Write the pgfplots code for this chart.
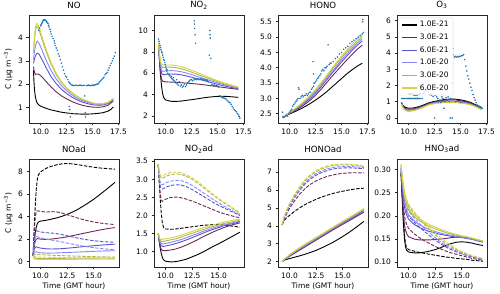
\documentclass[border=0pt]{standalone}
\usepackage{fontspec}
\setmainfont{DejaVu Sans}
\usepackage{pgfplots}
\pgfplotsset{compat=1.18}
\definecolor{c1}{RGB}{0,0,0}
\definecolor{c2}{RGB}{110,40,85}
\definecolor{c3}{RGB}{85,85,205}
\definecolor{c4}{RGB}{135,135,255}
\definecolor{c5}{RGB}{180,180,75}
\definecolor{c6}{RGB}{212,212,70}
\definecolor{obs}{RGB}{31,119,180}
\pgfplotsset{
  myax/.style={scale only axis, width=90bp, height=108bp, anchor=south west,
    axis line style={black!85, line width=0.6bp}, tick align=outside, tick pos=left,
    major tick length=2.5bp, tick style={black!85, line width=0.6bp},
    ticklabel style={font=\fontsize{7.5}{8.5}\selectfont},
    label style={font=\fontsize{7.5}{8.5}\selectfont},
    title style={font=\fontsize{8.6}{9.6}\selectfont, yshift=-3.5bp},
    /pgf/number format/assume math mode=true, clip=true},
  toprow/.style={myax, xmin=8.87, xmax=17.55, xtick={10,12.5,15,17.5}, xticklabels={10.0,12.5,15.0,17.5}},
  botrow/.style={myax, xmin=8.915, xmax=17.385, xtick={10,12.5,15}, xticklabels={10.0,12.5,15.0}, xlabel={Time (GMT hour)}, xlabel style={yshift=2.5bp}},
  ln/.style={line width=0.9bp},
  dsh/.style={line width=0.9bp, dash pattern=on 3.5bp off 1.5bp},
  ob/.style={only marks, mark=*, mark size=0.55bp, obs, forget plot},
}
\begin{document}
\begin{tikzpicture}
\useasboundingbox (0,0) rectangle (500bp,294bp);
% ---------------- NO ----------------
\begin{axis}[toprow, at={(29bp,171bp)}, title={NO}, ymin=0.34, ymax=4.96, ytick={1,2,3,4},
  ylabel={C (μg m\textsuperscript{−3})}, ylabel style={yshift=-1bp}]
\addplot[ob] coordinates {(9.8,4.3)(9.9,4.4)(10.0,4.5)(10.05,4.55)(10.1,4.6)(10.15,4.65)(10.2,4.7)(10.25,4.72)(10.3,4.75)(10.35,4.75)(10.4,4.75)(10.5,4.72)(10.55,4.68)(10.6,4.65)(10.7,4.6)(10.75,4.52)(10.8,4.45)(10.9,4.35)(10.95,4.25)(11.0,4.15)(11.1,4.05)(11.2,3.95)(11.3,3.85)(11.35,3.75)(11.4,3.65)(11.5,3.55)(11.6,3.45)(11.7,3.3)(11.8,3.2)(11.9,3.05)(12.0,2.9)(12.1,2.75)(12.2,2.6)(12.3,2.45)(12.4,2.35)(12.5,2.3)(12.6,2.2)(12.7,2.1)(12.8,2.05)(12.9,2.0)(13.0,1.97)(13.1,1.95)(13.2,1.94)(13.3,1.95)(13.4,1.96)(13.5,1.95)(13.6,1.94)(13.7,1.95)(13.8,1.96)(13.9,1.95)(14.0,1.94)(14.1,1.95)(14.2,1.95)(14.4,1.94)(14.5,1.95)(14.6,1.96)(14.7,1.95)(14.8,1.94)(14.9,1.95)(15.0,1.96)(15.1,1.95)(15.2,1.96)(15.3,1.98)(15.4,2.0)(15.5,2.0)(15.6,2.05)(15.7,2.1)(15.8,2.15)(15.9,2.2)(16.0,2.25)(16.1,2.3)(16.2,2.4)(16.3,2.45)(16.4,2.5)(16.5,2.6)(16.6,2.7)(16.7,2.8)(16.8,2.9)(16.9,3.0)(17.0,3.1)(17.1,3.2)(17.2,3.35)(12.75,1.05)(12.8,0.92)(12.82,0.75)(12.85,0.6)(14.25,1.5)(14.3,0.78)(14.32,0.6)};
\addplot[ln,c1] coordinates {(9.3,2.6)(9.35,2.1)(9.4,1.75)(9.5,1.42)(9.6,1.25)(9.7,1.17)(9.85,1.1)(10,1.06)(10.5,0.97)(11,0.9)(11.5,0.85)(12,0.8)(12.5,0.77)(13,0.74)(13.5,0.73)(14,0.72)(14.5,0.72)(15,0.73)(15.5,0.75)(16,0.78)(16.5,0.85)(16.8,0.93)(17,1.03)};
\addplot[ln,c2] coordinates {(9.3,2.75)(9.4,2.5)(9.5,2.42)(9.6,2.43)(9.75,2.44)(9.9,2.4)(10,2.36)(10.25,2.25)(10.5,2.12)(11,1.88)(11.5,1.67)(12,1.5)(12.5,1.37)(13,1.26)(13.5,1.17)(14,1.1)(14.5,1.05)(15,1.02)(15.5,1.01)(16,1.03)(16.5,1.1)(17,1.28)};
\addplot[ln,c3] coordinates {(9.3,2.9)(9.4,3.08)(9.5,3.22)(9.6,3.3)(9.7,3.33)(9.85,3.28)(10,3.15)(10.25,2.95)(10.5,2.72)(11,2.32)(11.5,2.02)(12,1.78)(12.5,1.6)(13,1.45)(13.5,1.33)(14,1.24)(14.5,1.17)(15,1.12)(15.5,1.1)(16,1.11)(16.5,1.17)(17,1.32)};
\addplot[ln,c4] coordinates {(9.3,3.05)(9.4,3.4)(9.5,3.65)(9.6,3.8)(9.67,3.84)(9.8,3.78)(10,3.6)(10.25,3.32)(10.5,3.05)(11,2.58)(11.5,2.22)(12,1.93)(12.5,1.72)(13,1.54)(13.5,1.4)(14,1.3)(14.5,1.22)(15,1.16)(15.5,1.13)(16,1.14)(16.5,1.2)(17,1.35)};
\addplot[ln,c5] coordinates {(9.3,3.35)(9.4,3.9)(9.5,4.3)(9.6,4.48)(9.7,4.45)(9.85,4.3)(10,4.1)(10.25,3.75)(10.5,3.42)(11,2.85)(11.5,2.4)(12,2.06)(12.5,1.81)(13,1.62)(13.5,1.47)(14,1.35)(14.5,1.26)(15,1.19)(15.5,1.15)(16,1.16)(16.5,1.22)(17,1.37)};
\addplot[ln,c6] coordinates {(9.3,3.45)(9.4,4.05)(9.5,4.45)(9.6,4.6)(9.7,4.56)(9.85,4.42)(10,4.22)(10.25,3.86)(10.5,3.52)(11,2.93)(11.5,2.46)(12,2.1)(12.5,1.85)(13,1.65)(13.5,1.49)(14,1.37)(14.5,1.28)(15,1.2)(15.5,1.16)(16,1.17)(16.5,1.23)(17,1.39)};
\end{axis}
% ---------------- NO2 ----------------
\begin{axis}[toprow, at={(154bp,171bp)}, title={NO\textsubscript{2}}, ymin=1.35, ymax=11.45, ytick={2,4,6,8,10}]
\addplot[ob] coordinates {(9.3,9.2)(9.35,9.0)(9.4,8.8)(9.45,8.6)(9.5,8.4)(9.55,8.2)(9.6,8.0)(9.65,7.9)(9.7,7.7)(9.75,7.5)(9.8,7.3)(9.85,7.2)(9.9,7.0)(9.95,6.8)(10.0,6.6)(10.05,6.4)(10.1,6.2)(10.15,6.3)(10.2,6.0)(10.3,5.9)(10.35,5.8)(10.4,5.75)(10.5,5.6)(10.55,5.7)(10.6,5.5)(10.7,5.4)(10.75,5.6)(10.8,5.3)(10.9,5.2)(11.0,5.1)(11.05,5.4)(11.1,5.0)(11.2,4.9)(11.3,5.2)(11.4,4.8)(11.5,4.9)(11.6,4.7)(11.7,4.8)(11.8,5.0)(11.9,4.75)(12.0,4.9)(12.1,5.1)(12.2,5.2)(12.3,5.3)(12.4,5.4)(12.5,5.4)(12.6,5.3)(12.7,5.5)(12.8,5.4)(12.9,5.45)(13.0,5.4)(13.1,5.5)(13.2,5.4)(13.3,5.45)(13.4,5.5)(13.5,5.4)(13.6,5.45)(13.7,5.35)(13.8,5.4)(13.9,5.3)(14.0,5.35)(14.1,5.2)(14.4,4.9)(14.5,4.95)(14.6,4.85)(14.7,4.9)(14.8,4.8)(14.9,4.85)(15.0,4.8)(15.1,4.7)(15.2,3.9)(15.3,3.85)(15.4,3.75)(15.5,3.7)(15.6,3.7)(15.7,3.65)(15.8,3.6)(15.9,3.5)(16.0,3.4)(16.1,3.3)(16.2,3.25)(16.3,3.1)(16.4,2.9)(16.5,2.75)(16.6,2.6)(16.7,2.5)(16.8,2.4)(16.9,2.25)(17.0,2.15)(17.05,2.0)(17.1,1.95)(17.15,1.8)(12.75,10.9)(12.77,10.6)(12.8,10.2)(12.83,9.6)(12.88,8.8)(14.25,10.0)(14.27,9.6)(14.3,9.3)(14.2,7.7)(14.35,7.4)};
\addplot[ln,c1] coordinates {(9.3,8.6)(9.4,7.2)(9.5,5.8)(9.6,4.8)(9.7,4.1)(9.8,3.75)(9.9,3.6)(10,3.5)(10.5,3.38)(11,3.37)(11.5,3.4)(12,3.47)(12.5,3.53)(13,3.6)(13.5,3.68)(14,3.75)(14.5,3.8)(15,3.84)(15.5,3.85)(16,3.83)(16.5,3.79)(17,3.75)};
\addplot[ln,c2] coordinates {(9.3,8.6)(9.4,7.2)(9.5,6.0)(9.6,5.45)(9.7,5.27)(9.85,5.22)(10,5.2)(11,5.15)(12,5.08)(12.5,5.04)(13,5.0)(14,4.88)(15,4.75)(16,4.62)(17,4.5)};
\addplot[ln,c3] coordinates {(9.3,8.65)(9.4,7.4)(9.5,6.5)(9.6,6.0)(9.7,5.88)(9.85,5.87)(10,5.9)(10.5,5.93)(11,5.92)(11.5,5.85)(12,5.75)(12.5,5.63)(13,5.5)(13.5,5.37)(14,5.23)(14.5,5.1)(15,4.97)(15.5,4.85)(16,4.74)(16.5,4.64)(17,4.55)};
\addplot[ln,c4] coordinates {(9.3,8.7)(9.4,7.55)(9.5,6.75)(9.6,6.3)(9.7,6.18)(9.85,6.2)(10,6.22)(10.5,6.25)(11,6.22)(11.5,6.14)(12,6.02)(12.5,5.88)(13,5.72)(13.5,5.56)(14,5.4)(14.5,5.25)(15,5.1)(15.5,4.96)(16,4.84)(16.5,4.72)(17,4.6)};
\addplot[ln,c5] coordinates {(9.3,8.75)(9.4,7.7)(9.5,7.0)(9.6,6.65)(9.7,6.55)(9.85,6.55)(10,6.57)(10.5,6.58)(11,6.52)(11.5,6.42)(12,6.28)(12.5,6.1)(13,5.92)(13.5,5.74)(14,5.56)(14.5,5.38)(15,5.21)(15.5,5.05)(16,4.91)(16.5,4.78)(17,4.66)};
\addplot[ln,c6] coordinates {(9.3,8.8)(9.4,7.8)(9.5,7.15)(9.6,6.85)(9.7,6.78)(9.85,6.78)(10,6.78)(10.5,6.77)(11,6.72)(11.5,6.62)(12,6.46)(12.5,6.28)(13,6.08)(13.5,5.88)(14,5.68)(14.5,5.49)(15,5.31)(15.5,5.14)(16,4.99)(16.5,4.85)(17,4.72)};
\end{axis}
% ---------------- HONO ----------------
\begin{axis}[toprow, at={(278bp,171bp)}, title={HONO}, ymin=2.2, ymax=5.72, ytick={2.5,3,3.5,4,4.5,5,5.5}, yticklabels={2.5,3.0,3.5,4.0,4.5,5.0,5.5}]
\addplot[ob] coordinates {(9.3,2.55)(9.35,2.4)(9.4,2.38)(9.5,2.4)(9.6,2.42)(9.7,2.45)(9.8,2.42)(9.9,2.5)(10.0,2.55)(10.1,2.6)(10.2,2.65)(10.3,2.75)(10.4,2.8)(10.5,2.85)(10.6,2.9)(10.7,2.95)(10.8,3.0)(10.85,3.35)(10.9,3.3)(11.0,3.0)(11.1,3.05)(11.2,3.1)(11.3,3.05)(11.4,3.1)(11.5,3.1)(11.6,3.15)(11.7,3.1)(11.8,3.15)(11.9,3.2)(12.0,3.2)(12.1,3.3)(12.2,3.35)(12.3,3.4)(12.25,4.2)(12.3,3.8)(12.35,3.5)(12.4,3.5)(12.5,3.55)(12.6,3.6)(12.7,3.65)(12.8,3.7)(12.9,3.75)(13.0,3.8)(13.1,3.9)(13.2,3.95)(13.3,3.9)(13.4,4.0)(13.5,4.0)(13.6,4.05)(13.7,4.75)(13.8,4.1)(13.9,4.15)(14.0,4.15)(14.2,4.2)(14.4,4.3)(14.6,4.35)(14.8,4.45)(15.0,4.5)(15.2,4.6)(15.4,4.65)(15.6,4.7)(15.8,4.8)(16.0,4.85)(16.2,4.9)(16.4,4.95)(16.6,5.0)(16.8,5.05)(17.0,5.1)(17.05,5.5)(17.05,5.58)(17.1,5.15)};
\addplot[ln,c1] coordinates {(9.3,2.38)(9.5,2.42)(10,2.5)(10.5,2.57)(11,2.65)(11.5,2.74)(12,2.84)(12.5,2.95)(13,3.07)(13.5,3.2)(14,3.35)(14.5,3.5)(15,3.65)(15.5,3.8)(16,3.93)(16.5,4.05)(17,4.15)};
\addplot[ln,c2] coordinates {(9.3,2.38)(9.5,2.42)(10,2.5)(10.5,2.6)(11,2.7)(11.5,2.82)(12,2.95)(12.5,3.11)(13,3.29)(13.5,3.49)(14,3.69)(14.5,3.88)(15,4.07)(15.5,4.25)(16,4.43)(16.5,4.6)(17,4.74)};
\addplot[ln,c3] coordinates {(9.3,2.38)(9.5,2.43)(10,2.52)(10.5,2.62)(11,2.74)(11.5,2.87)(12,3.01)(12.5,3.18)(13,3.37)(13.5,3.58)(14,3.79)(14.5,3.99)(15,4.19)(15.5,4.38)(16,4.56)(16.5,4.73)(17,4.88)};
\addplot[ln,c4] coordinates {(9.3,2.38)(9.5,2.43)(10,2.53)(10.5,2.64)(11,2.76)(11.5,2.9)(12,3.05)(12.5,3.22)(13,3.42)(13.5,3.63)(14,3.85)(14.5,4.05)(15,4.26)(15.5,4.45)(16,4.63)(16.5,4.8)(17,4.95)};
\addplot[ln,c5] coordinates {(9.3,2.38)(9.5,2.44)(10,2.54)(10.5,2.66)(11,2.79)(11.5,2.93)(12,3.09)(12.5,3.27)(13,3.47)(13.5,3.69)(14,3.91)(14.5,4.12)(15,4.33)(15.5,4.52)(16,4.7)(16.5,4.87)(17,5.02)};
\addplot[ln,c6] coordinates {(9.3,2.38)(9.5,2.44)(10,2.55)(10.5,2.67)(11,2.8)(11.5,2.95)(12,3.11)(12.5,3.3)(13,3.5)(13.5,3.72)(14,3.95)(14.5,4.17)(15,4.38)(15.5,4.58)(16,4.77)(16.5,4.94)(17,5.08)};
\end{axis}
% ---------------- O3 ----------------
\begin{axis}[toprow, at={(397bp,171bp)}, title={O\textsubscript{3}}, ymin=-0.31, ymax=6.35, ytick={0,1,2,3,4,5,6},
  legend style={at={(0.02,0.975)}, anchor=north west, font=\fontsize{7.5}{8.5}\selectfont, draw=black!15, rounded corners=1.5bp, fill=white, fill opacity=0.8, text opacity=1, inner xsep=2.5bp, inner ysep=1.5bp, row sep=1.6bp},
  legend cell align=left,
  legend image code/.code={\draw[#1, line width=1.3bp] (0bp,0bp) -- (15bp,0bp);}]
\addplot[ob] coordinates {(9.3,0.9)(9.35,1.2)(9.45,1.2)(9.55,1.2)(9.65,1.2)(9.75,1.2)(9.85,1.2)(9.95,1.2)(10.05,1.2)(10.15,1.2)(10.25,1.2)(10.35,1.2)(10.45,1.2)(10.55,1.2)(10.65,1.2)(10.75,1.2)(10.85,1.2)(10.95,1.2)(11.05,1.2)(11.15,1.2)(11.3,1.2)(10.0,1.48)(10.1,1.48)(10.2,1.48)(10.3,1.48)(10.4,1.48)(10.5,1.4)(10.6,1.4)(10.7,1.4)(10.8,1.4)(10.9,1.45)(11.0,1.45)(11.1,1.5)(11.4,1.5)(11.5,1.6)(11.6,1.7)(11.7,1.85)(11.8,1.75)(11.9,1.6)(12.0,1.45)(12.1,1.5)(12.2,1.4)(12.35,1.33)(12.5,0.0)(12.55,1.4)(12.7,1.3)(12.8,1.2)(12.9,1.0)(13.0,1.1)(13.1,0.95)(13.2,1.3)(13.3,1.2)(13.4,0.6)(13.5,1.0)(13.6,1.25)(13.7,1.1)(13.8,1.3)(13.9,1.0)(14.0,0.0)(14.05,1.2)(14.15,2.15)(14.2,0.0)(14.25,4.3)(14.3,3.9)(14.4,3.75)(14.5,3.8)(14.6,3.75)(14.7,3.8)(14.8,3.75)(14.9,3.8)(15.0,3.8)(15.1,3.85)(15.2,3.85)(15.3,3.9)(15.4,3.6)(15.5,3.2)(15.6,2.9)(15.7,2.6)(15.8,2.4)(15.9,2.15)(16.0,1.9)(16.1,1.7)(16.2,1.45)(16.3,1.25)(16.4,1.1)(16.5,0.95)(16.6,0.8)(16.7,0.75)(16.8,0.72)(16.9,0.7)(17.0,0.65)(17.1,0.6)(14.5,1.0)(14.7,1.05)(15.0,0.95)(15.2,1.0)};
\addplot[ln,c1] coordinates {(9.3,0.95)(9.4,0.82)(9.5,0.74)(9.7,0.65)(10,0.6)(10.5,0.62)(11,0.7)(11.5,0.82)(12,0.95)(12.5,1.02)(13,1.09)(13.5,1.14)(14,1.17)(14.5,1.16)(15,1.12)(15.5,1.05)(16,0.95)(16.5,0.8)(17,0.6)};
\addlegendentry{1.0E-21}
\addplot[ln,c2] coordinates {(9.3,0.94)(9.4,0.78)(9.5,0.68)(9.7,0.58)(10,0.54)(10.5,0.57)(11,0.66)(11.5,0.78)(12,0.91)(12.5,0.99)(13,1.06)(13.5,1.1)(14,1.12)(14.5,1.11)(15,1.07)(15.5,1.0)(16,0.91)(16.5,0.76)(17,0.57)};
\addlegendentry{3.0E-21}
\addplot[ln,c3] coordinates {(9.3,0.93)(9.4,0.74)(9.5,0.63)(9.7,0.52)(10,0.48)(10.5,0.52)(11,0.61)(11.5,0.74)(12,0.87)(12.5,0.94)(13,1.0)(13.5,1.03)(14,1.04)(14.5,1.03)(15,1.0)(15.5,0.94)(16,0.86)(16.5,0.72)(17,0.55)};
\addlegendentry{6.0E-21}
\addplot[ln,c4] coordinates {(9.3,0.92)(9.4,0.72)(9.5,0.61)(9.7,0.5)(10,0.45)(10.5,0.49)(11,0.59)(11.5,0.72)(12,0.85)(12.5,0.92)(13,0.97)(13.5,1.0)(14,1.01)(14.5,1.0)(15,0.97)(15.5,0.91)(16,0.84)(16.5,0.7)(17,0.54)};
\addlegendentry{1.0E-20}
\addplot[ln,c5] coordinates {(9.3,0.91)(9.4,0.7)(9.5,0.58)(9.7,0.47)(10,0.42)(10.5,0.47)(11,0.57)(11.5,0.7)(12,0.83)(12.5,0.9)(13,0.95)(13.5,0.97)(14,0.98)(14.5,0.97)(15,0.94)(15.5,0.89)(16,0.82)(16.5,0.69)(17,0.53)};
\addlegendentry{3.0E-20}
\addplot[ln,c6] coordinates {(9.3,0.9)(9.4,0.68)(9.5,0.56)(9.7,0.45)(10,0.4)(10.5,0.45)(11,0.55)(11.5,0.68)(12,0.82)(12.5,0.88)(13,0.93)(13.5,0.95)(14,0.96)(14.5,0.95)(15,0.92)(15.5,0.87)(16,0.8)(16.5,0.68)(17,0.52)};
\addlegendentry{6.0E-20}
\end{axis}
% ---------------- NOad ----------------
\begin{axis}[botrow, at={(29bp,27bp)}, title={NOad}, ymin=-0.5, ymax=9.1, ytick={0,2,4,6,8},
  ylabel={C (μg m\textsuperscript{−3})}, ylabel style={yshift=-1bp}]
\addplot[dsh,c1] coordinates {(9.3,0.5)(9.4,2.8)(9.5,4.9)(9.6,6.4)(9.7,7.3)(9.8,7.7)(10,7.95)(10.3,8.15)(10.6,8.3)(11,8.45)(11.5,8.58)(12,8.67)(12.5,8.7)(13,8.67)(13.5,8.6)(14,8.52)(14.5,8.44)(15,8.37)(15.5,8.31)(16,8.27)(16.5,8.23)(17,8.2)};
\addplot[ln,c1] coordinates {(9.3,0.5)(9.4,1.6)(9.5,2.5)(9.6,3.05)(9.7,3.35)(9.8,3.5)(10,3.58)(10.5,3.65)(11,3.75)(11.5,3.86)(12,4.0)(12.5,4.18)(13,4.38)(13.5,4.62)(14,4.9)(14.5,5.2)(15,5.52)(15.5,5.88)(16,6.25)(16.5,6.63)(17,7.02)};
\addplot[dsh,c2] coordinates {(9.3,0.5)(9.4,2.6)(9.5,3.9)(9.6,4.45)(9.7,4.5)(10,4.45)(10.5,4.38)(11,4.42)(11.5,4.4)(12,4.3)(12.5,4.15)(13,4.0)(13.5,3.85)(14,3.72)(14.5,3.6)(15,3.5)(15.5,3.42)(16,3.36)(16.5,3.31)(17,3.28)};
\addplot[ln,c2] coordinates {(9.3,0.5)(9.4,1.3)(9.5,1.8)(9.6,1.98)(9.7,2.02)(10,1.98)(10.5,1.95)(11,1.98)(11.5,2.04)(12,2.1)(12.5,2.18)(13,2.28)(13.5,2.38)(14,2.48)(14.5,2.58)(15,2.68)(15.5,2.77)(16,2.86)(16.5,2.94)(17,3.0)};
\addplot[dsh,c3] coordinates {(9.3,0.5)(9.4,1.9)(9.5,2.55)(9.6,2.72)(9.7,2.7)(10,2.62)(10.5,2.55)(11,2.52)(11.5,2.47)(12,2.38)(12.5,2.28)(13,2.17)(13.5,2.07)(14,1.98)(14.5,1.9)(15,1.84)(15.5,1.79)(16,1.75)(16.5,1.72)(17,1.7)};
\addplot[ln,c3] coordinates {(9.3,0.5)(9.4,1.05)(9.5,1.25)(9.6,1.3)(9.7,1.26)(10,1.18)(10.5,1.12)(11,1.1)(11.5,1.11)(12,1.13)(12.5,1.17)(13,1.21)(13.5,1.26)(14,1.31)(14.5,1.35)(15,1.39)(15.5,1.43)(16,1.47)(16.5,1.5)(17,1.53)};
\addplot[dsh,c4] coordinates {(9.3,0.5)(9.4,1.6)(9.5,2.1)(9.6,2.22)(9.7,2.2)(10,2.08)(10.5,1.98)(11,1.9)(11.5,1.82)(12,1.73)(12.5,1.63)(13,1.53)(13.5,1.44)(14,1.36)(14.5,1.28)(15,1.22)(15.5,1.16)(16,1.11)(16.5,1.07)(17,1.04)};
\addplot[ln,c4] coordinates {(9.3,0.5)(9.4,0.75)(9.5,0.83)(9.6,0.85)(9.7,0.82)(10,0.77)(10.5,0.74)(11,0.74)(11.5,0.75)(12,0.77)(12.5,0.79)(13,0.81)(13.5,0.83)(14,0.85)(14.5,0.87)(15,0.89)(15.5,0.91)(16,0.93)(16.5,0.94)(17,0.95)};
\addplot[dsh,c5] coordinates {(9.3,0.45)(9.45,0.62)(9.6,0.63)(10,0.6)(11,0.55)(12,0.51)(13,0.48)(14,0.45)(15,0.42)(16,0.4)(17,0.38)};
\addplot[ln,c5] coordinates {(9.3,0.45)(9.45,0.3)(9.6,0.27)(10,0.26)(11,0.26)(12,0.27)(13,0.28)(14,0.28)(15,0.29)(16,0.3)(17,0.3)};
\addplot[dsh,c6] coordinates {(9.3,0.45)(9.45,0.4)(9.6,0.4)(10,0.38)(11,0.36)(12,0.34)(13,0.33)(14,0.32)(15,0.31)(16,0.3)(17,0.29)};
\addplot[ln,c6] coordinates {(9.3,0.45)(9.45,0.2)(9.6,0.18)(10,0.17)(11,0.17)(12,0.18)(13,0.18)(14,0.19)(15,0.19)(16,0.2)(17,0.2)};
\end{axis}
% ---------------- NO2ad ----------------
\begin{axis}[botrow, at={(154bp,27bp)}, title={NO\textsubscript{2}ad}, ymin=0.58, ymax=3.56, ytick={1,1.5,2,2.5,3,3.5}, yticklabels={1.0,1.5,2.0,2.5,3.0,3.5}]
\addplot[dsh,c1] coordinates {(9.3,3.4)(9.35,3.3)(9.4,2.95)(9.5,2.45)(9.6,2.05)(9.7,1.8)(9.8,1.68)(10,1.63)(10.5,1.62)(11,1.63)(11.5,1.65)(12,1.67)(12.5,1.69)(13,1.71)(13.5,1.73)(14,1.74)(14.5,1.75)(15,1.75)(15.5,1.74)(16,1.72)(16.5,1.7)(17,1.68)};
\addplot[ln,c1] coordinates {(9.3,1.5)(9.35,1.45)(9.4,1.3)(9.5,1.1)(9.6,0.95)(9.7,0.85)(9.8,0.78)(10,0.74)(10.5,0.72)(11,0.73)(11.5,0.76)(12,0.8)(12.5,0.86)(13,0.92)(13.5,0.99)(14,1.07)(14.5,1.15)(15,1.22)(15.5,1.3)(16,1.38)(16.5,1.46)(17,1.54)};
\addplot[dsh,c2] coordinates {(9.3,3.4)(9.35,3.3)(9.4,3.0)(9.5,2.6)(9.6,2.42)(9.7,2.39)(9.85,2.42)(10,2.45)(10.5,2.5)(11,2.51)(11.5,2.49)(12,2.45)(12.5,2.4)(13,2.34)(13.5,2.28)(14,2.22)(14.5,2.16)(15,2.1)(15.5,2.05)(16,2.01)(16.5,1.97)(17,1.94)};
\addplot[ln,c2] coordinates {(9.3,1.5)(9.35,1.45)(9.4,1.3)(9.5,1.15)(9.6,1.07)(9.7,1.04)(9.85,1.03)(10,1.03)(10.5,1.05)(11,1.08)(11.5,1.13)(12,1.19)(12.5,1.26)(13,1.33)(13.5,1.41)(14,1.48)(14.5,1.55)(15,1.61)(15.5,1.67)(16,1.72)(16.5,1.76)(17,1.8)};
\addplot[dsh,c3] coordinates {(9.3,3.4)(9.35,3.3)(9.4,3.05)(9.5,2.82)(9.6,2.74)(9.7,2.73)(9.85,2.75)(10,2.78)(10.5,2.83)(11,2.85)(11.5,2.84)(12,2.79)(12.5,2.72)(13,2.63)(13.5,2.54)(14,2.45)(14.5,2.36)(15,2.28)(15.5,2.21)(16,2.14)(16.5,2.07)(17,2.0)};
\addplot[ln,c3] coordinates {(9.3,1.5)(9.35,1.45)(9.4,1.33)(9.5,1.22)(9.6,1.17)(9.7,1.15)(9.85,1.15)(10,1.16)(10.5,1.19)(11,1.23)(11.5,1.28)(12,1.33)(12.5,1.39)(13,1.45)(13.5,1.51)(14,1.57)(14.5,1.62)(15,1.67)(15.5,1.72)(16,1.76)(16.5,1.79)(17,1.83)};
\addplot[dsh,c4] coordinates {(9.3,3.4)(9.35,3.3)(9.4,3.1)(9.5,2.92)(9.6,2.86)(9.7,2.85)(9.85,2.87)(10,2.9)(10.5,2.95)(11,2.97)(11.5,2.96)(12,2.91)(12.5,2.83)(13,2.74)(13.5,2.64)(14,2.54)(14.5,2.44)(15,2.35)(15.5,2.26)(16,2.18)(16.5,2.1)(17,2.02)};
\addplot[ln,c4] coordinates {(9.3,1.5)(9.35,1.46)(9.4,1.36)(9.5,1.27)(9.6,1.23)(9.7,1.22)(9.85,1.22)(10,1.23)(10.5,1.26)(11,1.3)(11.5,1.34)(12,1.39)(12.5,1.45)(13,1.5)(13.5,1.56)(14,1.61)(14.5,1.66)(15,1.7)(15.5,1.74)(16,1.78)(16.5,1.81)(17,1.85)};
\addplot[dsh,c5] coordinates {(9.3,3.4)(9.35,3.32)(9.4,3.18)(9.5,3.07)(9.6,3.03)(9.7,3.03)(9.85,3.05)(10,3.08)(10.5,3.13)(11,3.15)(11.5,3.13)(12,3.08)(12.5,3.0)(13,2.9)(13.5,2.79)(14,2.67)(14.5,2.56)(15,2.45)(15.5,2.35)(16,2.25)(16.5,2.15)(17,2.05)};
\addplot[ln,c5] coordinates {(9.3,1.5)(9.35,1.47)(9.4,1.39)(9.5,1.32)(9.6,1.29)(9.7,1.28)(9.85,1.29)(10,1.3)(10.5,1.33)(11,1.36)(11.5,1.41)(12,1.46)(12.5,1.51)(13,1.56)(13.5,1.61)(14,1.66)(14.5,1.7)(15,1.74)(15.5,1.78)(16,1.81)(16.5,1.84)(17,1.87)};
\addplot[dsh,c6] coordinates {(9.3,3.42)(9.35,3.35)(9.4,3.22)(9.5,3.12)(9.6,3.09)(9.7,3.09)(9.85,3.11)(10,3.14)(10.5,3.19)(11,3.2)(11.5,3.18)(12,3.12)(12.5,3.04)(13,2.94)(13.5,2.82)(14,2.7)(14.5,2.58)(15,2.47)(15.5,2.37)(16,2.27)(16.5,2.17)(17,2.07)};
\addplot[ln,c6] coordinates {(9.3,1.5)(9.35,1.47)(9.4,1.41)(9.5,1.36)(9.6,1.34)(9.7,1.34)(9.85,1.35)(10,1.36)(10.5,1.38)(11,1.42)(11.5,1.46)(12,1.51)(12.5,1.56)(13,1.61)(13.5,1.66)(14,1.7)(14.5,1.74)(15,1.78)(15.5,1.82)(16,1.85)(16.5,1.88)(17,1.9)};
\end{axis}
% ---------------- HONOad ----------------
\begin{axis}[botrow, at={(278bp,27bp)}, title={HONOad}, ymin=1.7, ymax=7.73, ytick={2,3,4,5,6,7}]
\addplot[dsh,c1] coordinates {(9.3,4.05)(9.5,4.3)(9.75,4.47)(10,4.58)(10.5,4.82)(11,5.02)(11.5,5.2)(12,5.35)(12.5,5.48)(13,5.6)(13.5,5.7)(14,5.79)(14.5,5.87)(15,5.93)(15.5,5.99)(16,6.04)(16.5,6.08)(17,6.1)};
\addplot[ln,c1] coordinates {(9.3,2.0)(9.5,2.08)(9.75,2.13)(10,2.17)(10.5,2.25)(11,2.33)(11.5,2.42)(12,2.52)(12.5,2.63)(13,2.76)(13.5,2.9)(14,3.05)(14.5,3.22)(15,3.4)(15.5,3.59)(16,3.8)(16.5,4.02)(17,4.25)};
\addplot[dsh,c2] coordinates {(9.3,4.05)(9.5,4.4)(9.75,4.7)(10,4.97)(10.5,5.42)(11,5.8)(11.5,6.1)(12,6.33)(12.5,6.5)(13,6.64)(13.5,6.75)(14,6.83)(14.5,6.89)(15,6.93)(15.5,6.95)(16,6.96)(16.5,6.96)(17,6.95)};
\addplot[ln,c2] coordinates {(9.3,2.0)(9.5,2.1)(10,2.3)(10.5,2.48)(11,2.66)(11.5,2.84)(12,3.02)(12.5,3.2)(13,3.38)(13.5,3.56)(14,3.74)(14.5,3.91)(15,4.08)(15.5,4.25)(16,4.42)(16.5,4.59)(17,4.76)};
\addplot[dsh,c3] coordinates {(9.3,4.05)(9.5,4.45)(9.75,4.8)(10,5.1)(10.5,5.6)(11,6.02)(11.5,6.36)(12,6.62)(12.5,6.82)(13,6.97)(13.5,7.08)(14,7.16)(14.5,7.21)(15,7.23)(15.5,7.24)(16,7.23)(16.5,7.21)(17,7.19)};
\addplot[ln,c3] coordinates {(9.3,2.0)(9.5,2.1)(10,2.33)(10.5,2.52)(11,2.71)(11.5,2.89)(12,3.07)(12.5,3.25)(13,3.43)(13.5,3.61)(14,3.79)(14.5,3.97)(15,4.14)(15.5,4.31)(16,4.48)(16.5,4.66)(17,4.84)};
\addplot[dsh,c4] coordinates {(9.3,4.05)(9.5,4.47)(9.75,4.83)(10,5.14)(10.5,5.66)(11,6.09)(11.5,6.44)(12,6.71)(12.5,6.91)(13,7.06)(13.5,7.17)(14,7.25)(14.5,7.29)(15,7.31)(15.5,7.31)(16,7.3)(16.5,7.28)(17,7.25)};
\addplot[ln,c4] coordinates {(9.3,2.0)(9.5,2.11)(10,2.35)(10.5,2.55)(11,2.74)(11.5,2.92)(12,3.1)(12.5,3.28)(13,3.46)(13.5,3.64)(14,3.82)(14.5,4.0)(15,4.18)(15.5,4.35)(16,4.53)(16.5,4.7)(17,4.88)};
\addplot[dsh,c5] coordinates {(9.3,4.05)(9.5,4.5)(9.75,4.88)(10,5.2)(10.5,5.74)(11,6.18)(11.5,6.54)(12,6.82)(12.5,7.02)(13,7.17)(13.5,7.28)(14,7.35)(14.5,7.39)(15,7.4)(15.5,7.4)(16,7.38)(16.5,7.35)(17,7.32)};
\addplot[ln,c5] coordinates {(9.3,2.0)(9.5,2.12)(10,2.37)(10.5,2.58)(11,2.77)(11.5,2.96)(12,3.14)(12.5,3.32)(13,3.5)(13.5,3.68)(14,3.86)(14.5,4.04)(15,4.22)(15.5,4.39)(16,4.57)(16.5,4.74)(17,4.92)};
\addplot[dsh,c6] coordinates {(9.3,4.05)(9.5,4.52)(9.75,4.91)(10,5.24)(10.5,5.79)(11,6.24)(11.5,6.6)(12,6.88)(12.5,7.08)(13,7.23)(13.5,7.34)(14,7.41)(14.5,7.44)(15,7.45)(15.5,7.44)(16,7.42)(16.5,7.39)(17,7.35)};
\addplot[ln,c6] coordinates {(9.3,2.0)(9.5,2.13)(10,2.39)(10.5,2.6)(11,2.8)(11.5,2.99)(12,3.17)(12.5,3.35)(13,3.53)(13.5,3.71)(14,3.89)(14.5,4.07)(15,4.25)(15.5,4.43)(16,4.6)(16.5,4.78)(17,4.96)};
\end{axis}
% ---------------- HNO3ad ----------------
\begin{axis}[botrow, at={(397bp,27bp)}, title={HNO\textsubscript{3}ad}, ymin=0.0895, ymax=0.3228, ytick={0.1,0.15,0.2,0.25,0.3}, yticklabels={0.10,0.15,0.20,0.25,0.30}]
\addplot[dsh,c1] coordinates {(9.3,0.29)(9.4,0.245)(9.5,0.2)(9.6,0.165)(9.7,0.142)(9.8,0.132)(10,0.127)(10.5,0.124)(11,0.121)(11.5,0.119)(12,0.117)(12.5,0.115)(13,0.113)(13.5,0.111)(14,0.11)(14.5,0.108)(15,0.107)(15.5,0.106)(16,0.104)(16.5,0.103)(17,0.102)};
\addplot[ln,c1] coordinates {(9.3,0.29)(9.4,0.24)(9.5,0.19)(9.6,0.155)(9.7,0.135)(9.8,0.126)(10,0.122)(10.5,0.12)(11,0.12)(11.3,0.121)(11.6,0.122)(12,0.124)(12.5,0.127)(13,0.131)(13.5,0.136)(14,0.14)(14.5,0.143)(15,0.144)(15.5,0.143)(16,0.141)(16.5,0.138)(17,0.136)};
\addplot[dsh,c2] coordinates {(9.3,0.295)(9.4,0.255)(9.5,0.225)(9.6,0.205)(9.7,0.19)(9.85,0.18)(10,0.173)(10.5,0.162)(11,0.153)(11.5,0.146)(12,0.14)(12.5,0.134)(13,0.129)(13.5,0.124)(14,0.12)(14.5,0.117)(15,0.114)(15.5,0.111)(16,0.108)(16.5,0.106)(17,0.104)};
\addplot[ln,c2] coordinates {(9.3,0.295)(9.4,0.25)(9.5,0.21)(9.6,0.185)(9.7,0.17)(9.85,0.16)(10,0.155)(10.5,0.15)(11,0.148)(11.5,0.148)(12,0.148)(12.5,0.149)(13,0.15)(13.5,0.151)(14,0.153)(14.5,0.154)(15,0.154)(15.5,0.153)(16,0.151)(16.5,0.148)(17,0.145)};
\addplot[dsh,c3] coordinates {(9.3,0.3)(9.4,0.268)(9.5,0.245)(9.6,0.23)(9.7,0.218)(9.85,0.208)(10,0.2)(10.5,0.187)(11,0.176)(11.5,0.166)(12,0.157)(12.5,0.148)(13,0.14)(13.5,0.133)(14,0.127)(14.5,0.122)(15,0.118)(15.5,0.114)(16,0.111)(16.5,0.108)(17,0.105)};
\addplot[ln,c3] coordinates {(9.3,0.3)(9.4,0.265)(9.5,0.24)(9.6,0.222)(9.7,0.21)(9.85,0.2)(10,0.193)(10.5,0.182)(11,0.175)(11.5,0.17)(12,0.166)(12.5,0.163)(13,0.16)(13.5,0.158)(14,0.156)(14.5,0.154)(15,0.153)(15.5,0.151)(16,0.149)(16.5,0.146)(17,0.143)};
\addplot[dsh,c4] coordinates {(9.3,0.303)(9.4,0.275)(9.5,0.255)(9.6,0.24)(9.7,0.228)(9.85,0.218)(10,0.21)(10.5,0.196)(11,0.184)(11.5,0.173)(12,0.163)(12.5,0.153)(13,0.144)(13.5,0.136)(14,0.13)(14.5,0.124)(15,0.119)(15.5,0.115)(16,0.112)(16.5,0.109)(17,0.106)};
\addplot[ln,c4] coordinates {(9.3,0.303)(9.4,0.272)(9.5,0.25)(9.6,0.234)(9.7,0.222)(9.85,0.21)(10,0.202)(10.5,0.19)(11,0.181)(11.5,0.175)(12,0.17)(12.5,0.166)(13,0.163)(13.5,0.16)(14,0.158)(14.5,0.156)(15,0.154)(15.5,0.152)(16,0.15)(16.5,0.147)(17,0.144)};
\addplot[dsh,c5] coordinates {(9.3,0.308)(9.4,0.285)(9.5,0.267)(9.6,0.253)(9.7,0.241)(9.85,0.23)(10,0.221)(10.5,0.206)(11,0.193)(11.5,0.181)(12,0.17)(12.5,0.159)(13,0.149)(13.5,0.14)(14,0.133)(14.5,0.127)(15,0.121)(15.5,0.117)(16,0.113)(16.5,0.11)(17,0.107)};
\addplot[ln,c5] coordinates {(9.3,0.308)(9.4,0.282)(9.5,0.262)(9.6,0.246)(9.7,0.234)(9.85,0.222)(10,0.213)(10.5,0.199)(11,0.19)(11.5,0.183)(12,0.177)(12.5,0.172)(13,0.168)(13.5,0.164)(14,0.161)(14.5,0.158)(15,0.156)(15.5,0.154)(16,0.151)(16.5,0.148)(17,0.145)};
\addplot[dsh,c6] coordinates {(9.3,0.311)(9.4,0.289)(9.5,0.271)(9.6,0.257)(9.7,0.245)(9.85,0.234)(10,0.225)(10.5,0.21)(11,0.197)(11.5,0.185)(12,0.174)(12.5,0.163)(13,0.153)(13.5,0.144)(14,0.136)(14.5,0.129)(15,0.123)(15.5,0.118)(16,0.114)(16.5,0.111)(17,0.108)};
\addplot[ln,c6] coordinates {(9.3,0.311)(9.4,0.286)(9.5,0.266)(9.6,0.25)(9.7,0.238)(9.85,0.226)(10,0.217)(10.5,0.203)(11,0.194)(11.5,0.187)(12,0.181)(12.5,0.176)(13,0.171)(13.5,0.167)(14,0.163)(14.5,0.16)(15,0.157)(15.5,0.155)(16,0.152)(16.5,0.149)(17,0.146)};
\end{axis}
\end{tikzpicture}
\end{document}
